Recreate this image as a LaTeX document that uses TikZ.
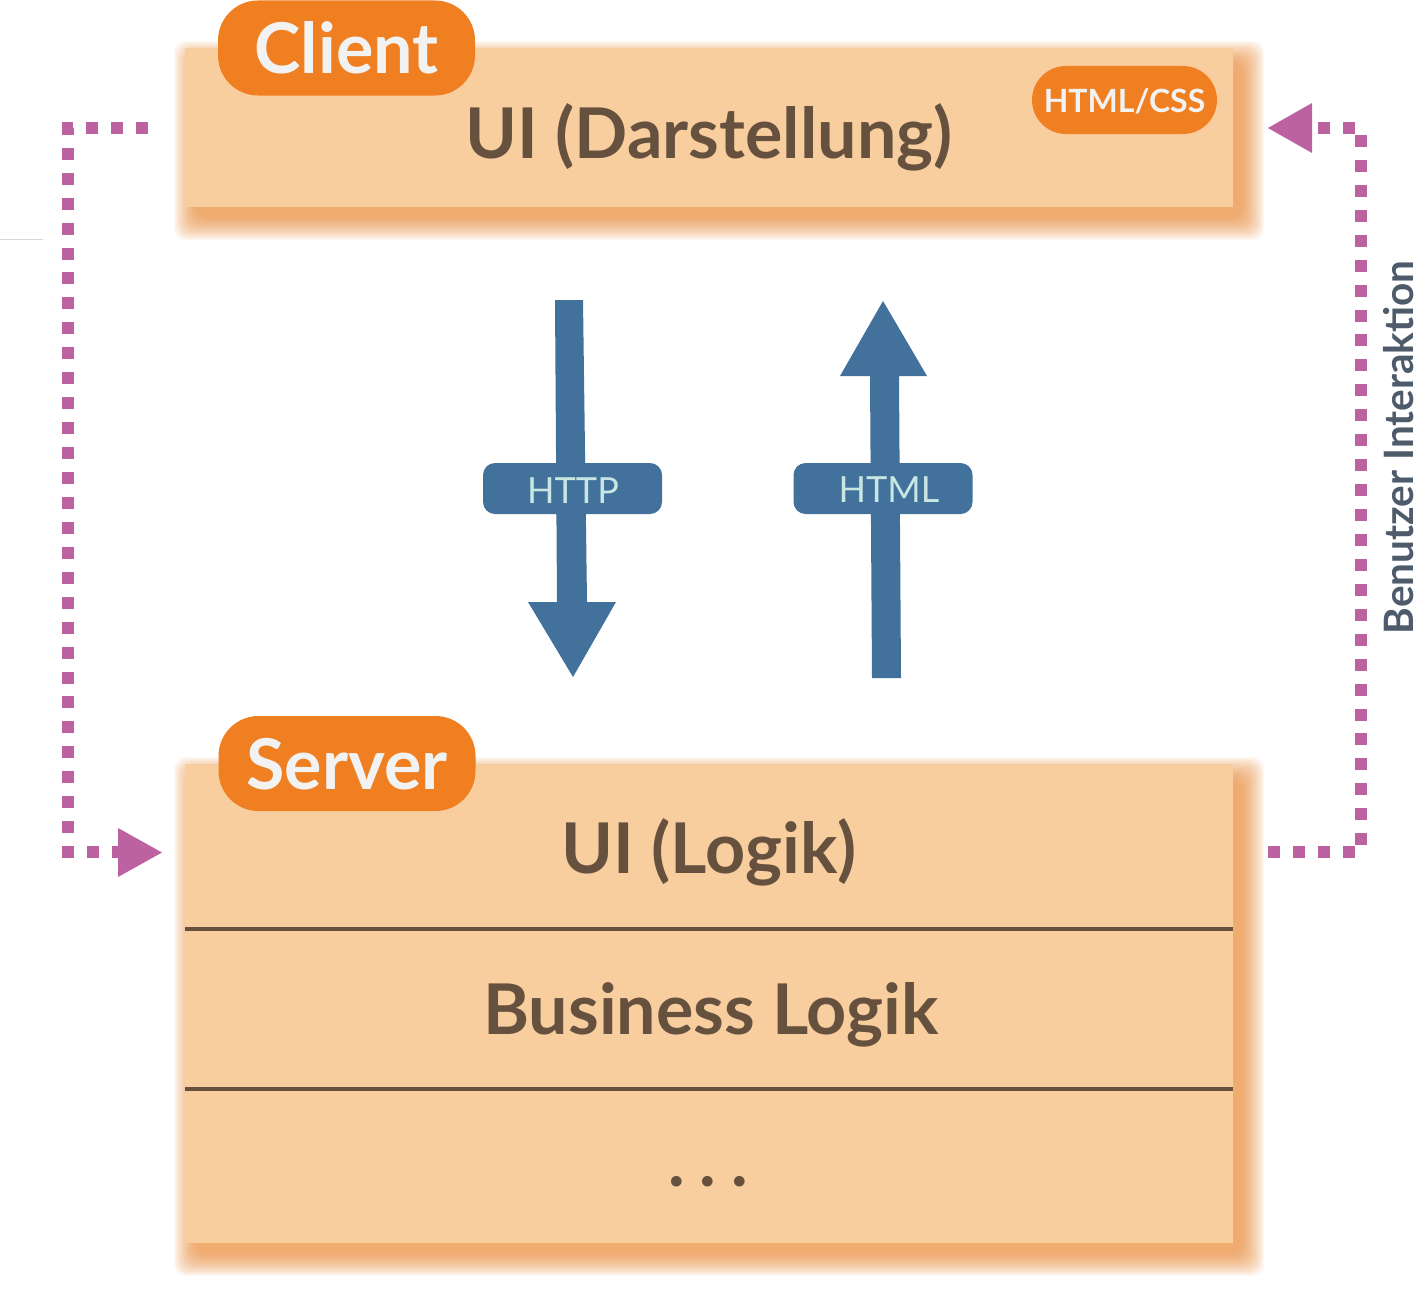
\documentclass[tikz,border=0pt]{standalone}
\usepackage{fontspec}
\setmainfont{Lato}
\definecolor{boxfill}{HTML}{F9CE9F}
\definecolor{tagorange}{HTML}{F07F22}
\definecolor{tagtext}{HTML}{F2F2F2}
\definecolor{textbrown}{HTML}{66513F}
\definecolor{shadowc}{HTML}{F08C38}
\definecolor{purp}{HTML}{BC62A0}
\definecolor{arrowblue}{HTML}{42719B}
\definecolor{labeltext}{HTML}{C8E6E2}
\definecolor{slate}{HTML}{4E5B6B}
\newcommand{\softshadow}[4]{%
  \foreach \i in {1,...,22}{%
    \fill[shadowc, opacity=0.05, rounded corners=12pt]
      (#1+13-\i*1.1, #2+17-\i*1.1) rectangle (#3+7+\i*1.1, #4+9+\i*1.1);
  }}
\tikzset{
  layerbox/.style={fill=boxfill, draw=none, inner sep=0pt, minimum width=1048pt},
  tagbox/.style={fill=tagorange, draw=none, rounded corners=40pt, inner sep=0pt,
                 minimum width=257pt, minimum height=95pt},
  tagtext/.style={anchor=base, inner sep=0pt, text=tagtext, font=\bfseries\fontsize{70}{80}\selectfont},
  bigtext/.style={anchor=base, inner sep=0pt, text=textbrown, font=\bfseries\fontsize{70}{80}\selectfont},
  pilltext/.style={anchor=base, inner sep=0pt, text=tagtext, font=\bfseries\fontsize{32}{36}\selectfont},
  lbltext/.style={anchor=base, inner sep=0pt, text=labeltext, font=\fontsize{36}{40}\selectfont},
  lblbox/.style={fill=arrowblue, draw=none, rounded corners=12pt, inner sep=0pt,
                 minimum width=179pt, minimum height=51pt},
  dotline/.style={draw=purp, line width=12pt, dash pattern=on 12pt off 12.94pt, line join=miter, line cap=butt},
  divider/.style={draw=textbrown, line width=4pt},
}
\begin{document}
\begin{tikzpicture}[x=1pt,y=-1pt]
\useasboundingbox (0,0) rectangle (1426,1290);
\fill[white] (0,0) rectangle (1426,1290);

% thin grey mark at the left
\coordinate (g1) at (0,239);
\coordinate (g2) at (43,239);
\draw[draw=black!15, line width=1pt] (g1) -- (g2);

% shadows
\softshadow{185}{48}{1233}{207}
\softshadow{185}{764}{1233}{1243}

% client box
\node[layerbox, minimum height=159pt] (client) at (709,127.5) {};
\node[tagbox] (clienttag) at (346.5,48) {};
\node[tagtext] (clientlbl) at (346.5,74) {Client};
\node[bigtext] (uidar) at (709,158) {UI (Darstellung)};
\node[fill=tagorange, draw=none, rounded corners=34pt, inner sep=0pt,
      minimum width=185pt, minimum height=68pt] (pill) at (1124.5,100) {};
\node[pilltext] (pilllbl) at (1124.5,112) {HTML/CSS};

% server box
\node[layerbox, minimum height=479pt] (server) at (709,1003.5) {};
\coordinate (d1l) at (185,929);
\coordinate (d1r) at (1233,929);
\coordinate (d2l) at (185,1089);
\coordinate (d2r) at (1233,1089);
\draw[divider] (d1l) -- (d1r);
\draw[divider] (d2l) -- (d2r);
\node[tagbox] (servertag) at (347,763.5) {};
\node[tagtext] (serverlbl) at (347,789) {Server};
\node[bigtext] (uilogik) at (709,873) {UI (Logik)};
\node[bigtext] (business) at (711,1034) {Business Logik};
\node[bigtext] (dots) at (708,1186) {.\hspace{15pt}.\hspace{15pt}.};

% HTTP arrow (down)
\fill[arrowblue] (555,300) -- (583,300) -- (587,602) -- (616,602) -- (573,677)
  -- (528,602) -- (557,602) -- cycle;
\node[lblbox] (httpbox) at (572.5,488.5) {};
\node[lbltext] (httplbl) at (573,503) {HTTP};

% HTML arrow (up)
\fill[arrowblue] (883,301) -- (927,376) -- (899,376) -- (901,678) -- (872,678)
  -- (870,376) -- (840,376) -- cycle;
\node[lblbox] (htmlbox) at (883,488.5) {};
\node[lbltext] (htmllbl) at (889,502) {HTML};

% left dotted connector
\coordinate (ls) at (148,128);
\coordinate (lc1) at (68,128);
\coordinate (lc2) at (68,852);
\coordinate (le) at (118,852);
\draw[dotline] (ls) -- (lc1) -- (lc2) -- (le);
\fill[purp] (118,828) -- (118,877) -- (162,852.5) -- cycle;

% right dotted connector
\coordinate (rs) at (1268,852);
\coordinate (rc1) at (1361,852);
\coordinate (rc2) at (1361,128);
\coordinate (re) at (1312,128);
\draw[dotline] (rs) -- (rc1) -- (rc2) -- (re);
\fill[purp] (1312,103) -- (1312,153) -- (1268,128) -- cycle;

% vertical label
\node[rotate=90, anchor=base, inner sep=0pt, text=slate,
      font=\bfseries\fontsize{40.5}{44}\selectfont] (benutzer) at (1413,447.5) {Benutzer Interaktion};
\end{tikzpicture}
\end{document}
